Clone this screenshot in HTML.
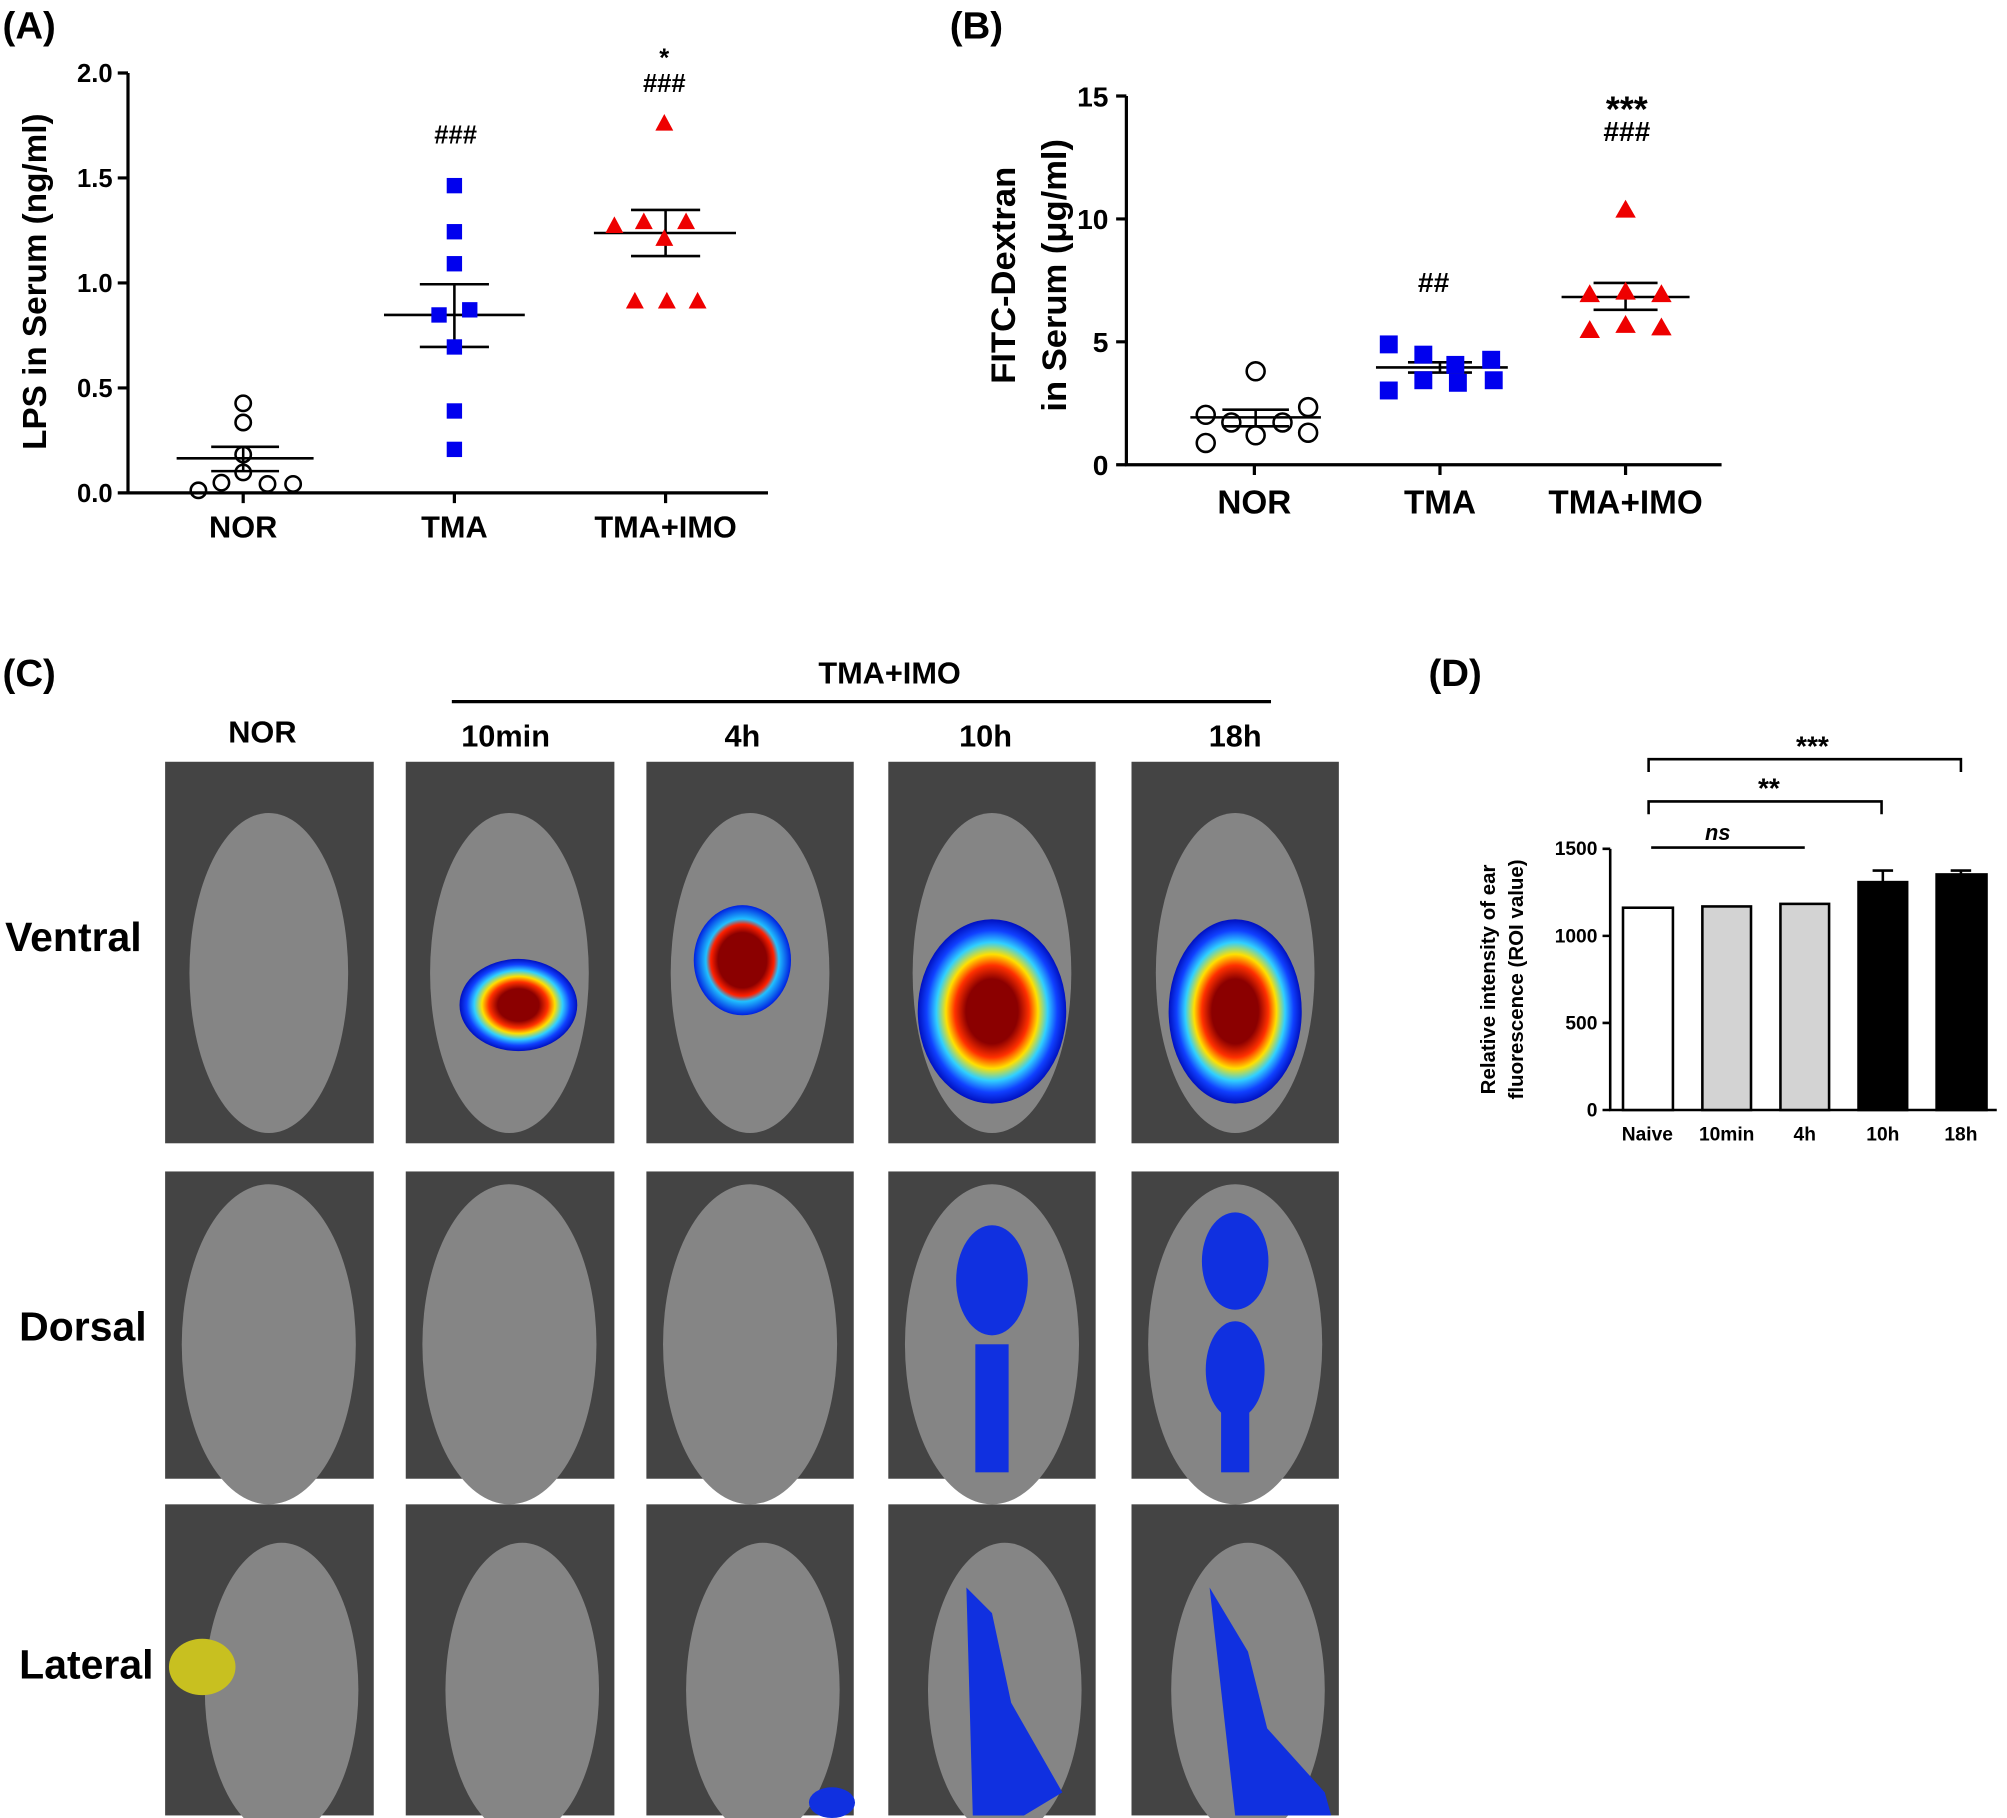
<!DOCTYPE html>
<html><head><meta charset="utf-8"><style>html,body{margin:0;padding:0;background:#fff}svg{display:block}</style></head>
<body>
<svg width="2007" height="1818" viewBox="0 0 1568 1420" preserveAspectRatio="none" xmlns="http://www.w3.org/2000/svg" font-family="Liberation Sans, Arial, sans-serif">
<rect width="1568" height="1420" fill="#fff"/>
<!-- Panel A -->
<text x="2" y="30" font-size="30" font-weight="bold">(A)</text>
<g stroke="#000" stroke-width="2.5" fill="none">
<path d="M100 57V385H600"/>
<path d="M92 57H100M92 139H100M92 221H100M92 303H100M92 385H100"/>
<path d="M190 385v8M355 385v8M520 385v8"/>
</g>
<g font-size="20" font-weight="bold" text-anchor="end">
<text x="88" y="64">2.0</text><text x="88" y="146">1.5</text><text x="88" y="228">1.0</text><text x="88" y="310">0.5</text><text x="88" y="392">0.0</text></g>
<g font-size="24" font-weight="bold" text-anchor="middle"><text x="190" y="420">NOR</text><text x="355" y="420">TMA</text><text x="520" y="420">TMA+IMO</text></g>
<text transform="translate(36,220) rotate(-90)" font-size="26" font-weight="bold" text-anchor="middle">LPS in Serum (ng/ml)</text>
<g fill="none" stroke="#000" stroke-width="2">
<circle cx="155" cy="383" r="6"/><circle cx="173" cy="377" r="6"/><circle cx="190" cy="315" r="6"/><circle cx="190" cy="330" r="6"/><circle cx="190" cy="355" r="6"/><circle cx="209" cy="378" r="6"/><circle cx="229" cy="378" r="6"/><circle cx="190" cy="369" r="6"/>
<path d="M138 358H245M165 349H218M165 368H218M190 349V368"/>
<path d="M300 246H410M328 222H382M328 271H382M355 222V271"/>
<path d="M464 182H575M493 164H547M493 200H547M520 164V200"/>
</g>
<g fill="#0000ee"><rect x="349" y="139" width="12" height="12"/><rect x="349" y="175" width="12" height="12"/><rect x="349" y="200" width="12" height="12"/><rect x="337" y="240" width="12" height="12"/><rect x="361" y="236" width="12" height="12"/><rect x="349" y="265" width="12" height="12"/><rect x="349" y="315" width="12" height="12"/><rect x="349" y="345" width="12" height="12"/></g>
<g fill="#ee0000"><path d="M519 89l7 13h-14zM480 169l7 13h-14zM503 166l7 13h-14zM536 166l7 13h-14zM519 179l7 13h-14zM496 228l7 13h-14zM521 228l7 13h-14zM545 228l7 13h-14z"/></g>
<g font-size="20" font-weight="bold" text-anchor="middle"><text x="356" y="112">###</text><text x="519" y="52">*</text><text x="519" y="72">###</text></g>
<!-- Panel B -->
<text x="742" y="30" font-size="30" font-weight="bold">(B)</text>
<g stroke="#000" stroke-width="2.5" fill="none"><path d="M880 75V363H1345"/><path d="M872 75H880M872 171H880M872 267H880M872 363H880"/><path d="M980 363v8M1125 363v8M1270 363v8"/></g>
<g font-size="22" font-weight="bold" text-anchor="end"><text x="866" y="83">15</text><text x="866" y="179">10</text><text x="866" y="275">5</text><text x="866" y="371">0</text></g>
<g font-size="26" font-weight="bold" text-anchor="middle"><text x="980" y="401">NOR</text><text x="1125" y="401">TMA</text><text x="1270" y="401">TMA+IMO</text></g>
<text transform="translate(793,215) rotate(-90)" font-size="27" font-weight="bold" text-anchor="middle">FITC-Dextran</text>
<text transform="translate(833,215) rotate(-90)" font-size="27" font-weight="bold" text-anchor="middle">in Serum (μg/ml)</text>
<g fill="none" stroke="#000" stroke-width="2">
<circle cx="981" cy="290" r="7"/><circle cx="942" cy="324" r="7"/><circle cx="1022" cy="318" r="7"/><circle cx="962" cy="330" r="7"/><circle cx="1002" cy="330" r="7"/><circle cx="942" cy="346" r="7"/><circle cx="981" cy="340" r="7"/><circle cx="1022" cy="338" r="7"/>
<path d="M930 326H1032M955 320H1007M955 333H1007M981 320V333"/>
<path d="M1075 287H1178M1100 283H1150M1100 291H1150M1125 283V291"/>
<path d="M1220 232H1320M1245 221H1295M1245 242H1295M1270 221V242"/>
</g>
<g fill="#0000ee"><rect x="1078" y="262" width="14" height="14"/><rect x="1105" y="270" width="14" height="14"/><rect x="1130" y="278" width="14" height="14"/><rect x="1158" y="274" width="14" height="14"/><rect x="1078" y="298" width="14" height="14"/><rect x="1105" y="290" width="14" height="14"/><rect x="1132" y="292" width="14" height="14"/><rect x="1160" y="290" width="14" height="14"/></g>
<g fill="#ee0000"><path d="M1270 156l8 14h-16zM1242 222l8 14h-16zM1270 220l8 14h-16zM1298 222l8 14h-16zM1242 250l8 14h-16zM1270 246l8 14h-16zM1298 248l8 14h-16z"/></g>
<g font-weight="bold" text-anchor="middle"><text x="1120" y="228" font-size="22">##</text><text x="1271" y="95" font-size="28">***</text><text x="1271" y="110" font-size="22">###</text></g>
<!-- Panel C -->
<text x="2" y="536" font-size="30" font-weight="bold">(C)</text>
<text x="695" y="534" font-size="24" font-weight="bold" text-anchor="middle">TMA+IMO</text>
<path d="M353 548H993" stroke="#000" stroke-width="2.5"/>
<g font-size="24" font-weight="bold" text-anchor="middle"><text x="205" y="580">NOR</text><text x="395" y="583">10min</text><text x="580" y="583">4h</text><text x="770" y="583">10h</text><text x="965" y="583">18h</text></g>
<g font-size="32" font-weight="bold"><text x="4" y="743">Ventral</text><text x="15" y="1047">Dorsal</text><text x="15" y="1311">Lateral</text></g>
<defs>
<radialGradient id="hot"><stop offset="0.35" stop-color="#8b0000"/><stop offset="0.5" stop-color="#ff3000"/><stop offset="0.62" stop-color="#ffe000"/><stop offset="0.75" stop-color="#30d0ff"/><stop offset="0.88" stop-color="#1040ff"/><stop offset="1" stop-color="#0010c0"/></radialGradient>
<radialGradient id="hot2"><stop offset="0.5" stop-color="#8b0000"/><stop offset="0.65" stop-color="#ff2000"/><stop offset="0.75" stop-color="#20c0ff"/><stop offset="1" stop-color="#0020e0"/></radialGradient>
</defs>
<g fill="#444">
<rect x="129" y="595" width="163" height="298"/><rect x="317" y="595" width="163" height="298"/><rect x="505" y="595" width="162" height="298"/><rect x="694" y="595" width="162" height="298"/><rect x="884" y="595" width="162" height="298"/>
<rect x="129" y="915" width="163" height="240"/><rect x="317" y="915" width="163" height="240"/><rect x="505" y="915" width="162" height="240"/><rect x="694" y="915" width="162" height="240"/><rect x="884" y="915" width="162" height="240"/>
<rect x="129" y="1175" width="163" height="243"/><rect x="317" y="1175" width="163" height="243"/><rect x="505" y="1175" width="162" height="243"/><rect x="694" y="1175" width="162" height="243"/><rect x="884" y="1175" width="162" height="243"/>
</g>
<g fill="#858585">
<ellipse cx="210" cy="760" rx="62" ry="125"/><ellipse cx="398" cy="760" rx="62" ry="125"/><ellipse cx="586" cy="760" rx="62" ry="125"/><ellipse cx="775" cy="760" rx="62" ry="125"/><ellipse cx="965" cy="760" rx="62" ry="125"/>
<ellipse cx="210" cy="1050" rx="68" ry="125"/><ellipse cx="398" cy="1050" rx="68" ry="125"/><ellipse cx="586" cy="1050" rx="68" ry="125"/><ellipse cx="775" cy="1050" rx="68" ry="125"/><ellipse cx="965" cy="1050" rx="68" ry="125"/>
<ellipse cx="220" cy="1320" rx="60" ry="115"/><ellipse cx="408" cy="1320" rx="60" ry="115"/><ellipse cx="596" cy="1320" rx="60" ry="115"/><ellipse cx="785" cy="1320" rx="60" ry="115"/><ellipse cx="975" cy="1320" rx="60" ry="115"/>
</g>
<ellipse cx="405" cy="785" rx="46" ry="36" fill="url(#hot)"/>
<ellipse cx="580" cy="750" rx="38" ry="43" fill="url(#hot2)"/>
<ellipse cx="775" cy="790" rx="58" ry="72" fill="url(#hot)"/>
<ellipse cx="965" cy="790" rx="52" ry="72" fill="url(#hot)"/>
<g fill="#1030e0"><ellipse cx="775" cy="1000" rx="28" ry="43"/><rect x="762" y="1050" width="26" height="100"/><ellipse cx="965" cy="985" rx="26" ry="38"/><ellipse cx="965" cy="1070" rx="23" ry="38"/><rect x="954" y="1090" width="22" height="60"/>
<path d="M755 1240L775 1260L790 1330L830 1400L800 1418L760 1418Z"/><path d="M945 1240L975 1290L990 1350L1035 1400L1040 1418L965 1418Z"/><ellipse cx="650" cy="1408" rx="18" ry="12"/></g>
<ellipse cx="158" cy="1302" rx="26" ry="22" fill="#c8c020"/>
<!-- Panel D -->
<text x="1116" y="536" font-size="30" font-weight="bold">(D)</text>
<g stroke="#000" stroke-width="2" fill="none"><path d="M1258 663V867H1560"/><path d="M1252 663H1258M1252 731H1258M1252 799H1258M1252 867H1258"/>
<path d="M1288 603V593H1532V603M1288 636V626H1470V636"/><path d="M1290 662H1410"/></g>
<g font-size="15" font-weight="bold" text-anchor="end"><text x="1248" y="668">1500</text><text x="1248" y="736">1000</text><text x="1248" y="804">500</text><text x="1248" y="872">0</text></g>
<g font-size="15" font-weight="bold" text-anchor="middle"><text x="1287" y="891">Naive</text><text x="1349" y="891">10min</text><text x="1410" y="891">4h</text><text x="1471" y="891">10h</text><text x="1532" y="891">18h</text></g>
<text transform="translate(1168,765) rotate(-90)" font-size="16" font-weight="bold" text-anchor="middle">Relative intensity of ear</text>
<text transform="translate(1190,765) rotate(-90)" font-size="16" font-weight="bold" text-anchor="middle">fluorescence (ROI value)</text>
<g stroke="#000" stroke-width="2"><rect x="1268" y="709" width="39" height="158" fill="#fff"/><rect x="1330" y="708" width="38" height="159" fill="#d3d3d3"/><rect x="1391" y="706" width="38" height="161" fill="#d3d3d3"/><rect x="1452" y="689" width="38" height="178" fill="#000"/><rect x="1513" y="683" width="39" height="184" fill="#000"/>
<path d="M1471 689V680M1463 680H1479M1532 683V680M1524 680H1540"/></g>
<g font-weight="bold" text-anchor="middle"><text x="1416" y="590" font-size="22">***</text><text x="1382" y="623" font-size="22">**</text><text x="1342" y="656" font-size="17" font-style="italic">ns</text></g>
</svg>
</body></html>
